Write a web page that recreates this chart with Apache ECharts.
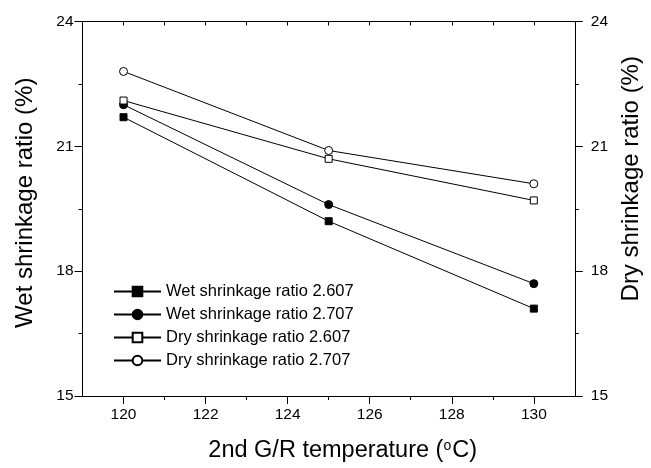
<!DOCTYPE html>
<html>
<head>
<meta charset="utf-8">
<script src="https://cdn.jsdelivr.net/npm/echarts@6/dist/echarts.min.js"></script>
<style>html,body{margin:0;padding:0;background:#fff;}#c{width:651px;height:468px;}</style>
</head>
<body>
<div id="c"></div>
<script>
const temps = [120, 125, 130];
const wet2607 = [21.7, 19.2, 17.1];
const wet2707 = [22.0, 19.6, 17.7];
const dry2607 = [22.1, 20.7, 19.7];
const dry2707 = [22.8, 20.9, 20.1];
const xMajorTicks = [120, 122, 124, 126, 128, 130];
const xMinorTicks = [121, 123, 125, 127, 129];
const xAllTicks = [119,120,121,122,123,124,125,126,127,128,129,130,131];
const seriesNames = ['Wet shrinkage ratio 2.607','Wet shrinkage ratio 2.707','Dry shrinkage ratio 2.607','Dry shrinkage ratio 2.707'];

const FF = '"Liberation Sans", Arial, sans-serif';
const pair = arr => temps.map((t, i) => [t, arr[i]]);

function mkSeries(name, data, symbol, filled, yIdx, size) {
  return {
    name: name, type: 'line', data: pair(data), yAxisIndex: yIdx, xAxisIndex: 0,
    symbol: symbol, symbolSize: size, showSymbol: true,
    lineStyle: { color: '#000', width: 1 },
    itemStyle: { color: filled ? '#000' : '#fff', borderColor: '#000', borderWidth: 1 },
    emphasis: { disabled: true }, animation: false
  };
}

const chart = echarts.init(document.getElementById('c'), null, { renderer: 'canvas' });
const axisLineStyle = { lineStyle: { color: '#000', width: 1 } };
chart.setOption({
  animation: false,
  backgroundColor: '#fff',
  grid: { left: 82.5, right: 70.5, top: 21.5, bottom: 65.5, containLabel: false },
  legend: {
    orient: 'vertical', left: 108, top: 278,
    itemWidth: 47, itemHeight: 12, itemGap: 6,
    textStyle: { fontSize: 16.5, lineHeight: 17, color: '#000', fontFamily: FF },
    data: seriesNames
  },
  xAxis: [
    {
      type: 'value', min: 119, max: 131, position: 'bottom',
      axisLine: axisLineStyle,
      axisTick: { show: true, length: 8, customValues: xMajorTicks, lineStyle: { color: '#000' } },
      axisLabel: { customValues: xMajorTicks, fontSize: 15.5, color: '#000', fontFamily: FF, margin: 11 },
      splitLine: { show: false },
      name: '2nd G/R temperature ({sup|o}C)', nameLocation: 'middle', nameGap: 43,
      nameTextStyle: { fontSize: 23.5, color: '#000', fontFamily: FF, padding: [0, 0, 0, 28],
        rich: { sup: { fontSize: 14, color: '#000', fontFamily: FF, verticalAlign: 'top', padding: [0, 1, 0, 0] } } }
    },
    {
      type: 'value', min: 119, max: 131, position: 'bottom',
      axisLine: { show: false },
      axisTick: { show: true, length: 4, customValues: xMinorTicks, lineStyle: { color: '#000' } },
      axisLabel: { show: false }, splitLine: { show: false }
    },
    {
      type: 'value', min: 119, max: 131, position: 'top',
      axisLine: axisLineStyle,
      axisTick: { show: true, inside: true, length: 4, customValues: xAllTicks, lineStyle: { color: '#000' } },
      axisLabel: { show: false }, splitLine: { show: false }
    }
  ],
  yAxis: [
    {
      type: 'value', min: 15, max: 24, interval: 3, position: 'left',
      axisLine: { show: true, lineStyle: { color: '#000', width: 1 } },
      axisTick: { show: true, length: 8, lineStyle: { color: '#000' } },
      minorTick: { show: true, splitNumber: 2, length: 4, lineStyle: { color: '#000' } },
      axisLabel: { fontSize: 15.5, color: '#000', fontFamily: FF, margin: 9 },
      splitLine: { show: false },
      name: 'Wet shrinkage ratio (%)', nameLocation: 'middle', nameGap: 45, nameRotate: 90,
      nameTextStyle: { fontSize: 24, color: '#000', fontFamily: FF, padding: [0, 0, 0, 12] }
    },
    {
      type: 'value', min: 15, max: 24, interval: 3, position: 'right',
      axisLine: { show: true, lineStyle: { color: '#000', width: 1 } },
      axisTick: { show: true, length: 8, lineStyle: { color: '#000' } },
      minorTick: { show: true, splitNumber: 2, length: 4, lineStyle: { color: '#000' } },
      axisLabel: { fontSize: 15.5, color: '#000', fontFamily: FF, margin: 16 },
      splitLine: { show: false },
      name: 'Dry shrinkage ratio (%)', nameLocation: 'middle', nameGap: 40, nameRotate: 90,
      nameTextStyle: { fontSize: 24, color: '#000', fontFamily: FF, padding: [0, 0, 0, 60] }
    }
  ],
  series: [
    mkSeries(seriesNames[0], wet2607, 'rect', true, 0, 7),
    mkSeries(seriesNames[1], wet2707, 'circle', true, 0, 8),
    mkSeries(seriesNames[2], dry2607, 'rect', false, 1, 7),
    mkSeries(seriesNames[3], dry2707, 'circle', false, 1, 8)
  ]
});
</script>
</body>
</html>
